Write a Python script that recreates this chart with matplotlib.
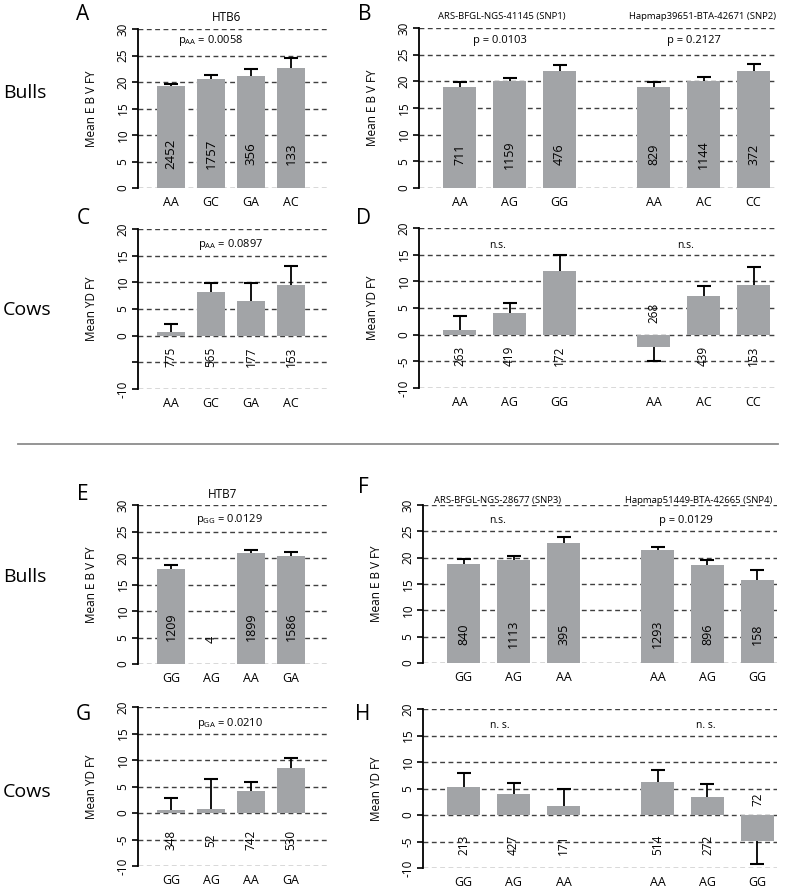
import numpy as np
import matplotlib
matplotlib.use('Agg')
import matplotlib.pyplot as plt
from matplotlib.lines import Line2D
import matplotlib.transforms as mtransforms

plt.rcParams['font.family'] = ['Open Sans', 'DejaVu Sans']
plt.rcParams['mathtext.fontset'] = 'custom'
plt.rcParams['mathtext.rm'] = 'Open Sans'
plt.rcParams['mathtext.it'] = 'Open Sans'

# ---------------- data ----------------
htb6_geno = ['AA', 'GC', 'GA', 'AC']
htb6_bull_mean = [19.2, 20.6, 21.2, 22.7]
htb6_bull_se = [0.5, 0.7, 1.2, 1.8]
htb6_bull_n = [2452, 1757, 356, 133]
htb6_cow_mean = [0.6, 8.1, 6.5, 9.5]
htb6_cow_se = [1.6, 1.8, 3.4, 3.5]
htb6_cow_n = [775, 565, 177, 153]

snp12_geno = ['AA', 'AG', 'GG', 'AA', 'AC', 'CC']
snp12_bull_mean = [18.9, 20.1, 21.85, 18.9, 20.1, 22.0]
snp12_bull_se = [0.9, 0.55, 1.15, 1.0, 0.8, 1.3]
snp12_bull_n = [711, 1159, 476, 829, 1144, 372]
snp12_cow_mean = [0.9, 4.1, 11.9, -2.3, 7.2, 9.3]
snp12_cow_se = [2.6, 1.9, 3.1, 2.7, 2.0, 3.3]
snp12_cow_n = [263, 419, 172, 268, 439, 153]

htb7_geno = ['GG', 'AG', 'AA', 'GA']
htb7_bull_mean = [17.9, np.nan, 21.0, 20.4]
htb7_bull_se = [0.7, np.nan, 0.6, 0.7]
htb7_bull_n = [1209, 4, 1899, 1586]
htb7_cow_mean = [0.5, 0.75, 4.1, 8.5]
htb7_cow_se = [2.3, 5.75, 1.7, 1.9]
htb7_cow_n = [348, 52, 742, 530]

snp34_geno = ['GG', 'AG', 'AA', 'AA', 'AG', 'GG']
snp34_bull_mean = [18.8, 19.5, 22.7, 21.5, 18.6, 15.7]
snp34_bull_se = [1.0, 0.8, 1.2, 0.6, 0.9, 1.9]
snp34_bull_n = [840, 1113, 395, 1293, 896, 158]
snp34_cow_mean = [5.2, 4.0, 1.7, 6.3, 3.4, -4.9]
snp34_cow_se = [2.7, 2.0, 3.2, 2.1, 2.5, 4.4]
snp34_cow_n = [213, 427, 171, 514, 272, 72]

# ---------------- layout helpers ----------------
W, H = 790, 891
fig = plt.figure(figsize=(W / 100, H / 100), dpi=100)

BAR_COLOR = '#A2A4A7'
GRID_COLOR = '#404040'


def px_axes(x0, x1, ytop, ybot):
    return fig.add_axes([x0 / W, 1 - ybot / H, (x1 - x0) / W, (ybot - ytop) / H])


def draw_panel(ax, pos, geno, mean, se, counts, ylim, xlim, width, ylabel,
               count_y, neg_count_y=None, count_fs=9, hide_m5=False, tick_pad=6):
    mean = np.asarray(mean, float)
    se = np.asarray(se, float)
    ax.set_xlim(*xlim)
    ax.set_ylim(*ylim)
    ticks = np.arange(ylim[0], ylim[1] + 0.1, 5)
    ax.set_yticks(ticks)
    labels = ['%d' % t for t in ticks]
    if hide_m5:
        labels = ['' if t == -5 else l for t, l in zip(ticks, labels)]
    ax.set_yticklabels(labels, rotation=90, va='center', fontsize=8.5)
    ax.set_axisbelow(True)
    ax.yaxis.grid(True, linestyle=(0, (3.5, 2.5)), color=GRID_COLOR, lw=1.0)
    for s in ['top', 'right', 'bottom']:
        ax.spines[s].set_visible(False)
    ax.spines['left'].set_linewidth(1.3)
    ax.tick_params(axis='y', direction='out', length=4, width=1.2, pad=2)
    ax.set_xticks(pos)
    ax.set_xticklabels(geno, fontsize=9)
    ax.tick_params(axis='x', length=0, pad=tick_pad)
    ax.set_ylabel(ylabel, fontsize=8.5)
    ax.yaxis.set_label_coords(-40 / (ax.get_position().width * W), 0.5)

    ok = ~np.isnan(mean)
    ax.bar(pos[ok], mean[ok], width=width, color=BAR_COLOR, zorder=2)
    sign = np.where(mean >= 0, 1, -1)
    cap = mean + sign * se
    ax.vlines(pos[ok], mean[ok], cap[ok], color='k', lw=1.3, zorder=3)
    ax.plot(pos[ok], cap[ok], ls='none', marker='_', ms=10, mew=1.5,
            color='k', zorder=3)
    for p, m, n in zip(pos, mean, counts):
        if np.isnan(m) or m < 0:
            y = neg_count_y
        else:
            y = count_y
        ax.text(p, y, str(n), rotation=90, ha='center', va='center',
                fontsize=count_fs, zorder=4)


def top_text(ax, x, yfrac, s, fs):
    tr = mtransforms.blended_transform_factory(ax.transData, ax.transAxes)
    ax.text(x, yfrac, s, transform=tr, ha='center', va='center', fontsize=fs)


pos4 = np.arange(4, dtype=float)
pos6 = np.r_[np.arange(3), np.arange(3) + 3.88].astype(float)
xlim4 = (-0.825, 3.925)
xlim6a = (-0.81, 6.31)
xlim6b = (-0.81, 6.27)

# ---------------- panel A ----------------
axA = px_axes(138, 328, 29, 188)
draw_panel(axA, pos4, htb6_geno, htb6_bull_mean, htb6_bull_se, htb6_bull_n,
           (0, 30), xlim4, 0.7, 'Mean E B V FY', 6.5, count_fs=9.5)
top_text(axA, 1.4, 1.075, 'HTB6', 8.5)
axA.text(0.98, 27.9, r'p$_{\mathrm{AA}}$ = 0.0058', ha='center', va='center', fontsize=8)

# ---------------- panel B ----------------
axB = px_axes(419, 775, 28, 188)
draw_panel(axB, pos6, snp12_geno, snp12_bull_mean, snp12_bull_se, snp12_bull_n,
           (0, 30), xlim6a, 0.66, 'Mean E B V FY', 6.3, count_fs=9)
top_text(axB, 0.85, 1.07, 'ARS-BFGL-NGS-41145 (SNP1)', 6.8)
top_text(axB, 4.85, 1.07, 'Hapmap39651-BTA-42671 (SNP2)', 6.8)
axB.text(0.8, 27.7, 'p = 0.0103', ha='center', va='center', fontsize=8)
axB.text(4.68, 27.7, 'p = 0.2127', ha='center', va='center', fontsize=8)

# ---------------- panel C ----------------
axC = px_axes(138, 328, 229, 389)
draw_panel(axC, pos4, htb6_geno, htb6_cow_mean, htb6_cow_se, htb6_cow_n,
           (-10, 20), xlim4, 0.7, 'Mean YD FY', -3.9, count_fs=8.5, hide_m5=True)
axC.text(1.48, 17.0, r'p$_{\mathrm{AA}}$ = 0.0897', ha='center', va='center', fontsize=8)

# ---------------- panel D ----------------
axD = px_axes(419, 775, 228, 388)
draw_panel(axD, pos6, snp12_geno, snp12_cow_mean, snp12_cow_se, snp12_cow_n,
           (-10, 20), xlim6a, 0.66, 'Mean YD FY', -4.0, neg_count_y=4.1, count_fs=8.5)
axD.text(0.77, 16.8, 'n.s.', ha='center', va='center', fontsize=7.5)
axD.text(4.52, 16.8, 'n.s.', ha='center', va='center', fontsize=7.5)

# ---------------- panel E ----------------
axE = px_axes(138, 328, 505, 664)
draw_panel(axE, pos4, htb7_geno, htb7_bull_mean, htb7_bull_se, htb7_bull_n,
           (0, 30), xlim4, 0.7, 'Mean E B V FY', 7.0, neg_count_y=4.7, count_fs=9)
top_text(axE, 1.28, 1.063, 'HTB7', 8.5)
axE.text(1.47, 27.2, r'p$_{\mathrm{GG}}$ = 0.0129', ha='center', va='center', fontsize=8)

# ---------------- panel F ----------------
axF = px_axes(423, 777, 505, 663)
draw_panel(axF, pos6, snp34_geno, snp34_bull_mean, snp34_bull_se, snp34_bull_n,
           (0, 30), xlim6b, 0.66, 'Mean E B V FY', 5.5, count_fs=9)
top_text(axF, 0.67, 1.03, 'ARS-BFGL-NGS-28677 (SNP3)', 6.8)
top_text(axF, 4.71, 1.03, 'Hapmap51449-BTA-42665 (SNP4)', 6.8)
axF.text(0.69, 27.0, 'n.s.', ha='center', va='center', fontsize=7.5)
axF.text(4.45, 27.0, 'p = 0.0129', ha='center', va='center', fontsize=8)

# ---------------- panel G ----------------
axG = px_axes(138, 328, 707, 866)
draw_panel(axG, pos4, htb7_geno, htb7_cow_mean, htb7_cow_se, htb7_cow_n,
           (-10, 20), xlim4, 0.7, 'Mean YD FY', -5.1, count_fs=8.5)
axG.text(1.48, 16.8, r'p$_{\mathrm{GA}}$ = 0.0210', ha='center', va='center', fontsize=8)

# ---------------- panel H ----------------
axH = px_axes(423, 777, 709, 868)
draw_panel(axH, pos6, snp34_geno, snp34_cow_mean, snp34_cow_se, snp34_cow_n,
           (-10, 20), xlim6b, 0.66, 'Mean YD FY', -5.6, neg_count_y=2.9, count_fs=8.5)
axH.text(0.72, 16.9, 'n. s.', ha='center', va='center', fontsize=7.5)
axH.text(4.85, 16.9, 'n. s.', ha='center', va='center', fontsize=7.5)

# ---------------- figure texts ----------------
def ftext(x, y, s, fs, ha='center'):
    fig.text(x / W, 1 - y / H, s, ha=ha, va='center', fontsize=fs)

for x, y, s in [(83, 15, 'A'), (365, 15, 'B'), (83, 219, 'C'), (363, 219, 'D'),
                (83, 495, 'E'), (363, 488, 'F'), (83, 714, 'G'), (363, 714, 'H')]:
    ftext(x, y, s, 15)

for y, s in [(93, 'Bulls'), (310, 'Cows'), (577, 'Bulls'), (792, 'Cows')]:
    ftext(3, y, s, 14, ha='left')

fig.add_artist(Line2D([18 / W, 778 / W], [1 - 444 / H, 1 - 444 / H],
                      color='#8c8c8c', lw=1.3))

fig.savefig('out.png', dpi=100)
